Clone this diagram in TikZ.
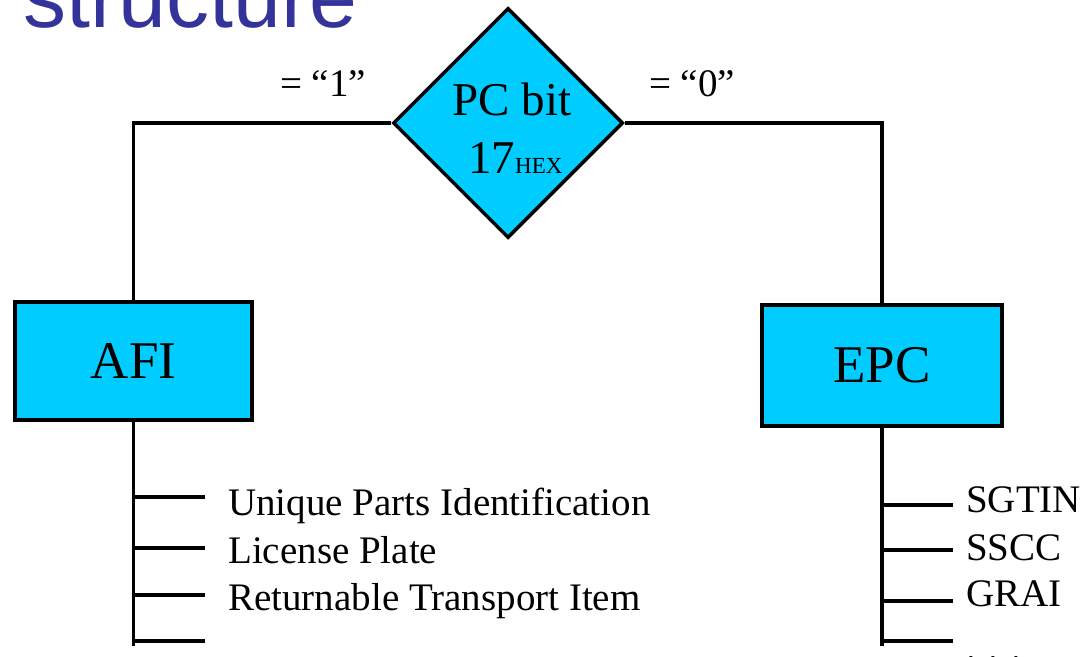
\documentclass[tikz,border=0pt]{standalone}
\usepackage{fontspec}
\setmainfont{Liberation Serif}
\newfontfamily\arialfont{Liberation Sans}
\usetikzlibrary{shapes.geometric}
\definecolor{boxcyan}{RGB}{0,204,255}
\definecolor{titleblue}{RGB}{51,51,153}
\tikzset{
  conn/.style={line width=3.5pt},
  boxnode/.style={draw, line width=4pt, fill=boxcyan, inner sep=0pt, font=\fontsize{53}{53}\selectfont},
  decision/.style={diamond, draw, line width=3.5pt, fill=boxcyan, inner sep=0pt, minimum width=230pt, minimum height=230pt},
  itemtext/.style={anchor=base west, inner sep=0pt, font=\fontsize{39}{39}\selectfont},
  branchlabel/.style={anchor=base west, inner sep=0pt, font=\fontsize{39}{39}\selectfont},
  pctext/.style={inner sep=0pt, font=\fontsize{47}{47}\selectfont}
}
\begin{document}
\begin{tikzpicture}[x=1pt,y=-1pt]
\useasboundingbox (0,0) rectangle (1083,656);
\clip (0,0) rectangle (1083,656);
\fill[white] (0,0) rectangle (1083,656);

% title (cut off at top)
\node[anchor=base west, inner sep=0pt, text=titleblue, font=\arialfont\fontsize{86}{86}\selectfont] (title) at (23,27) {structure};

% decision diamond
\node[decision] (pc) at (508,123) {};
\node[pctext, anchor=base] (pcA) at (512,115) {PC bit};
\node[pctext, anchor=base west] (pcB) at (468,173) {17{\fontsize{23}{23}\selectfont HEX}};

% branch labels
\node[branchlabel] (one) at (280,96) {= “1”};
\node[branchlabel] (zero) at (649,96) {= “0”};

% boxes
\node[boxnode, minimum width=237pt, minimum height=118pt] (afi) at (133.5,361) {AFI};
\node[boxnode, minimum width=240pt, minimum height=121pt] (epc) at (882,365.5) {EPC};

% connectors from diamond
\draw[conn] (pc.west) -| (afi.north);
\draw[conn] (pc.east) -| (epc.north);

% AFI list
\coordinate (aend) at (133.5,646);
\draw[conn] (afi.south) -- (aend);
\coordinate (a1) at (133.5,497); \coordinate (a1e) at (205,497);
\coordinate (a2) at (133.5,548); \coordinate (a2e) at (205,548);
\coordinate (a3) at (133.5,595); \coordinate (a3e) at (205,595);
\coordinate (a4) at (133.5,641); \coordinate (a4e) at (205,641);
\draw[conn] (a1) -- (a1e);
\draw[conn] (a2) -- (a2e);
\draw[conn] (a3) -- (a3e);
\draw[conn] (a4) -- (a4e);
\node[itemtext] (t1) at (228,515) {Unique Parts Identification};
\node[itemtext] (t2) at (228,563) {License Plate};
\node[itemtext] (t3) at (228,610) {Returnable Transport Item};

% EPC list
\coordinate (eend) at (882,646);
\draw[conn] (epc.south) -- (eend);
\coordinate (e1) at (882,505); \coordinate (e1e) at (953,505);
\coordinate (e2) at (882,550); \coordinate (e2e) at (953,550);
\coordinate (e3) at (882,601); \coordinate (e3e) at (953,601);
\coordinate (e4) at (882,641); \coordinate (e4e) at (953,641);
\draw[conn] (e1) -- (e1e);
\draw[conn] (e2) -- (e2e);
\draw[conn] (e3) -- (e3e);
\draw[conn] (e4) -- (e4e);
\node[itemtext] (s1) at (966,512) {SGTIN};
\node[itemtext] (s2) at (966,560) {SSCC};
\node[itemtext] (s3) at (966,606) {GRAI};
\node[itemtext] (s4) at (966,660) {. . .};
\end{tikzpicture}
\end{document}
